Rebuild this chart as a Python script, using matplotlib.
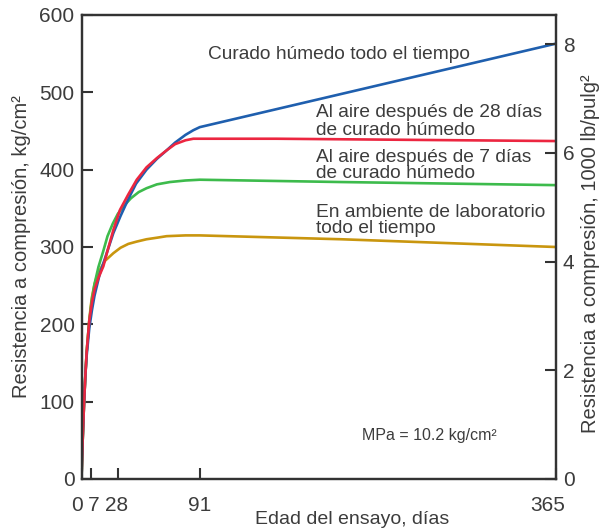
import matplotlib
matplotlib.use("Agg")
import matplotlib.pyplot as plt
from matplotlib.transforms import ScaledTranslation

plt.rcParams["font.family"] = ["Liberation Sans", "DejaVu Sans"]

TXT = "#3c3c3c"
EJE = "#333333"

# ── datos (días, kg/cm²) ─────────────────────────────────────
dias_humedo = [0, 0.5, 1, 2, 3, 4, 6, 8, 10, 14, 18, 24.5, 30, 36, 42, 50, 58, 65.5, 72, 80, 86, 91, 365]
res_humedo = [0, 30, 55, 100, 135, 160, 195, 218, 237, 265, 285, 318, 340, 362, 382, 400, 414, 425, 435, 445, 451, 455, 563]

dias_aire28 = [0, 0.5, 1, 2, 3, 4, 6, 8, 10, 13, 16.8, 20, 24.5, 29.6, 36, 42.5, 50, 58, 65.5, 72, 80, 86, 91, 150, 365]
res_aire28 = [0, 30, 55, 100, 135, 165, 205, 228, 245, 260, 275, 295, 322, 348, 368, 387, 403, 415, 425, 433, 438, 440, 440, 440, 437]

dias_aire7 = [0, 0.5, 1, 2, 3, 4, 6, 8, 10, 13, 16.8, 20, 24, 28, 32, 38, 44, 50, 58, 68, 80, 91, 200, 365]
res_aire7 = [0, 30, 55, 100, 135, 165, 205, 232, 252, 274, 295, 314, 330, 343, 352, 363, 371, 376, 381, 384, 386, 387, 384, 380]

dias_lab = [0, 0.5, 1, 2, 3, 4, 6, 7, 8, 10, 12, 14, 18, 24.5, 30, 36, 42.5, 50, 58, 65.5, 80, 91, 200, 365]
res_lab = [0, 30, 55, 100, 135, 165, 205, 222, 235, 252, 263, 270, 282, 292, 299, 304, 307, 310, 312, 314, 315, 315, 310, 300]

ticks_x = [0, 7, 28, 91, 365]
ticks_izq = [0, 100, 200, 300, 400, 500, 600]
ticks_der = [0, 2, 4, 6, 8]
KG_POR_1000PSI = 70.307

fig = plt.figure(figsize=(6.01, 5.29), dpi=100)
ax = fig.add_axes([81.5 / 601, 50 / 529, 474.5 / 601, 464 / 529])

ax.plot(dias_lab, res_lab, color="#c9960f", lw=1.9)
ax.plot(dias_aire7, res_aire7, color="#3dbb4c", lw=1.9)
ax.plot(dias_humedo, res_humedo, color="#1f5fae", lw=1.9)
ax.plot(dias_aire28, res_aire28, color="#ec2640", lw=1.9)

ax.set_xlim(0, 365)
ax.set_ylim(0, 600)
ax.set_xticks(ticks_x)
ax.set_yticks(ticks_izq)

ax2 = ax.twinx()
ax2.set_ylim(0, 600 / KG_POR_1000PSI)
ax2.set_yticks(ticks_der)

for a in (ax, ax2):
    for s in a.spines.values():
        s.set_color(EJE)
        s.set_linewidth(1.6)
    a.tick_params(direction="in", length=8, width=1.5, color=EJE,
                  labelsize=15, labelcolor=TXT, pad=5)
ax.tick_params(axis="x", pad=12)

# corrimientos pequeños de las etiquetas del eje x (en píxeles)
desplaz = [-4, 3, -1, 0, -8]
for lab, dx in zip(ax.get_xticklabels(), desplaz):
    lab.set_transform(lab.get_transform() + ScaledTranslation(dx / 100, 0, fig.dpi_scale_trans))

ax.set_xlabel("Edad del ensayo, días", fontsize=14, color=TXT)
ax.xaxis.set_label_coords(0.57, -0.068)
ax.set_ylabel("Resistencia a compresión, kg/cm²", fontsize=14.5, color=TXT, labelpad=6)
ax2.set_ylabel("Resistencia a compresión, 1000 lb/pulg²", fontsize=14.5, color=TXT)
ax2.yaxis.set_label_coords(1.052, 0.485)

# ── etiquetas de las curvas ─────────────────────────────────
fs = 13.8
ax.text(97.2, 543, "Curado húmedo todo el tiempo", fontsize=fs, color=TXT, va="baseline")
ax.text(180.2, 468.5, "Al aire después de 28 días", fontsize=fs, color=TXT, va="baseline")
ax.text(180.2, 444.8, "de curado húmedo", fontsize=fs, color=TXT, va="baseline")
ax.text(180.2, 410.3, "Al aire después de 7 días", fontsize=fs, color=TXT, va="baseline")
ax.text(180.2, 388.9, "de curado húmedo", fontsize=fs, color=TXT, va="baseline")
ax.text(180.2, 339.2, "En ambiente de laboratorio", fontsize=fs, color=TXT, va="baseline")
ax.text(180.2, 318.5, "todo el tiempo", fontsize=fs, color=TXT, va="baseline")
ax.text(215.6, 50.4, "MPa = 10.2 kg/cm²", fontsize=11.5, color=TXT, va="baseline")

fig.savefig("out.png", dpi=100)
